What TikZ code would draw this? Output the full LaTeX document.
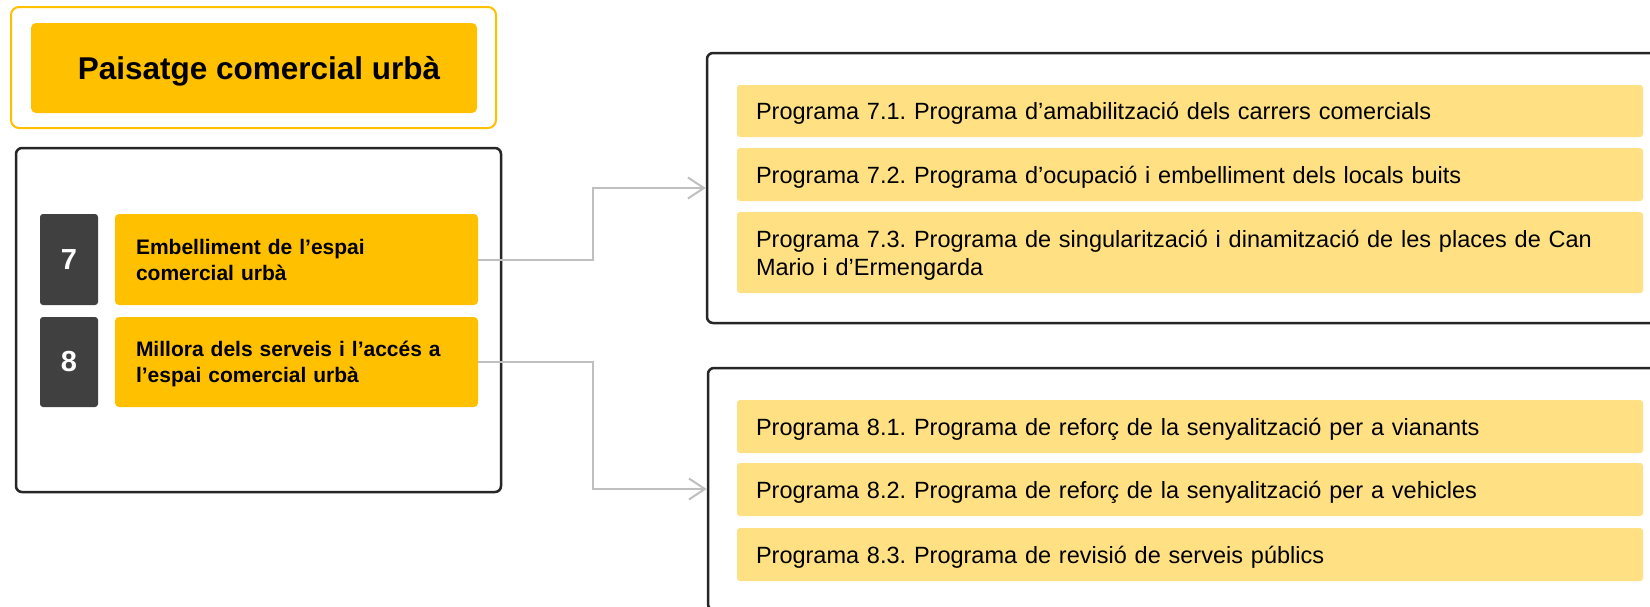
\documentclass[tikz,border=0pt]{standalone}
\usepackage{fontspec}
\setmainfont{Liberation Sans}
\frenchspacing
\usetikzlibrary{arrows.meta}
\definecolor{gold}{HTML}{FFC000}
\definecolor{lightgold}{HTML}{FFE083}
\definecolor{darkbox}{HTML}{404040}
\definecolor{frameblack}{HTML}{262626}
\definecolor{conngrey}{HTML}{BFBFBF}
\begin{document}
\begin{tikzpicture}[x=1pt,y=-1pt,
 frame/.style={draw=frameblack, line width=2.5pt, rounded corners=6pt, fill=white, inner sep=0pt},
 goldframe/.style={draw=gold, line width=2pt, rounded corners=8pt, inner sep=0pt},
 titlebox/.style={fill=gold, rounded corners=5pt, inner sep=0pt, text depth=0pt, font=\bfseries\fontsize{31.5}{36}\selectfont},
 numbox/.style={fill=darkbox, rounded corners=3pt, inner sep=0pt, text=white, minimum width=58pt, font=\bfseries\fontsize{29}{34}\selectfont},
 axisbox/.style={fill=gold, rounded corners=4pt, inner xsep=21pt, inner ysep=0pt, text width=321pt, align=left, text depth=26pt, font=\bfseries\fontsize{21}{26}\selectfont},
 progbox/.style={fill=lightgold, rounded corners=3pt, inner xsep=19pt, inner ysep=0pt, text width=868pt, align=left, text depth=0pt, font=\fontsize{23.5}{28}\selectfont},
 conn/.style={draw=conngrey, line width=2pt, -{Straight Barb[length=16pt,width=21pt]}}
]
\useasboundingbox (0,0) rectangle (1650,606);
\clip (0,0) rectangle (1650,606);
\fill[white] (0,0) rectangle (1650,606);

% title
\node[goldframe, minimum width=485pt, minimum height=121pt] (tframe) at (253.5,67.5) {};
\node[titlebox, minimum width=446pt, minimum height=90pt] (title) at (254,68) {\hspace{10pt}Paisatge comercial urbà};

% left frame
\node[frame, minimum width=485pt, minimum height=344pt] (left) at (258.5,320) {};
\node[numbox, minimum height=91pt] (n7) at (69,259.5) {7};
\node[numbox, minimum height=90pt] (n8) at (69,362) {8};
\node[axisbox, minimum height=91pt] (a7) at (296.5,259.5) {Embelliment de l’espai\\comercial urbà};
\node[axisbox, minimum height=90pt] (a8) at (296.5,362) {Millora dels serveis i l’accés a\\l’espai comercial urbà};

% right frames
\node[frame, minimum width=973pt, minimum height=270pt] (r7) at (1193.5,188) {};
\node[frame, minimum width=972pt, minimum height=242pt] (r8) at (1194,489) {};

\node[progbox, minimum height=52pt] (p71) at (1190,111) {Programa 7.1. Programa d’amabilització dels carrers comercials};
\node[progbox, minimum height=53pt] (p72) at (1190,174.5) {Programa 7.2. Programa d’ocupació i embelliment dels locals buits};
\node[progbox, minimum height=81pt, text depth=28pt] (p73) at (1190,252.5) {Programa 7.3. Programa de singularització i dinamització de les places de Can\\Mario i d’Ermengarda};

\node[progbox, minimum height=53pt] (p81) at (1190,426.5) {Programa 8.1. Programa de reforç de la senyalització per a vianants};
\node[progbox, minimum height=53pt] (p82) at (1190,489.5) {Programa 8.2. Programa de reforç de la senyalització per a vehicles};
\node[progbox, minimum height=53pt] (p83) at (1190,554.5) {Programa 8.3. Programa de revisió de serveis públics};

% connectors
\draw[conn] (a7.east) -- ++(115,0) |- (r7.west);
\draw[conn] (a8.east) -- ++(115,0) |- (r8.west);
\end{tikzpicture}
\end{document}
